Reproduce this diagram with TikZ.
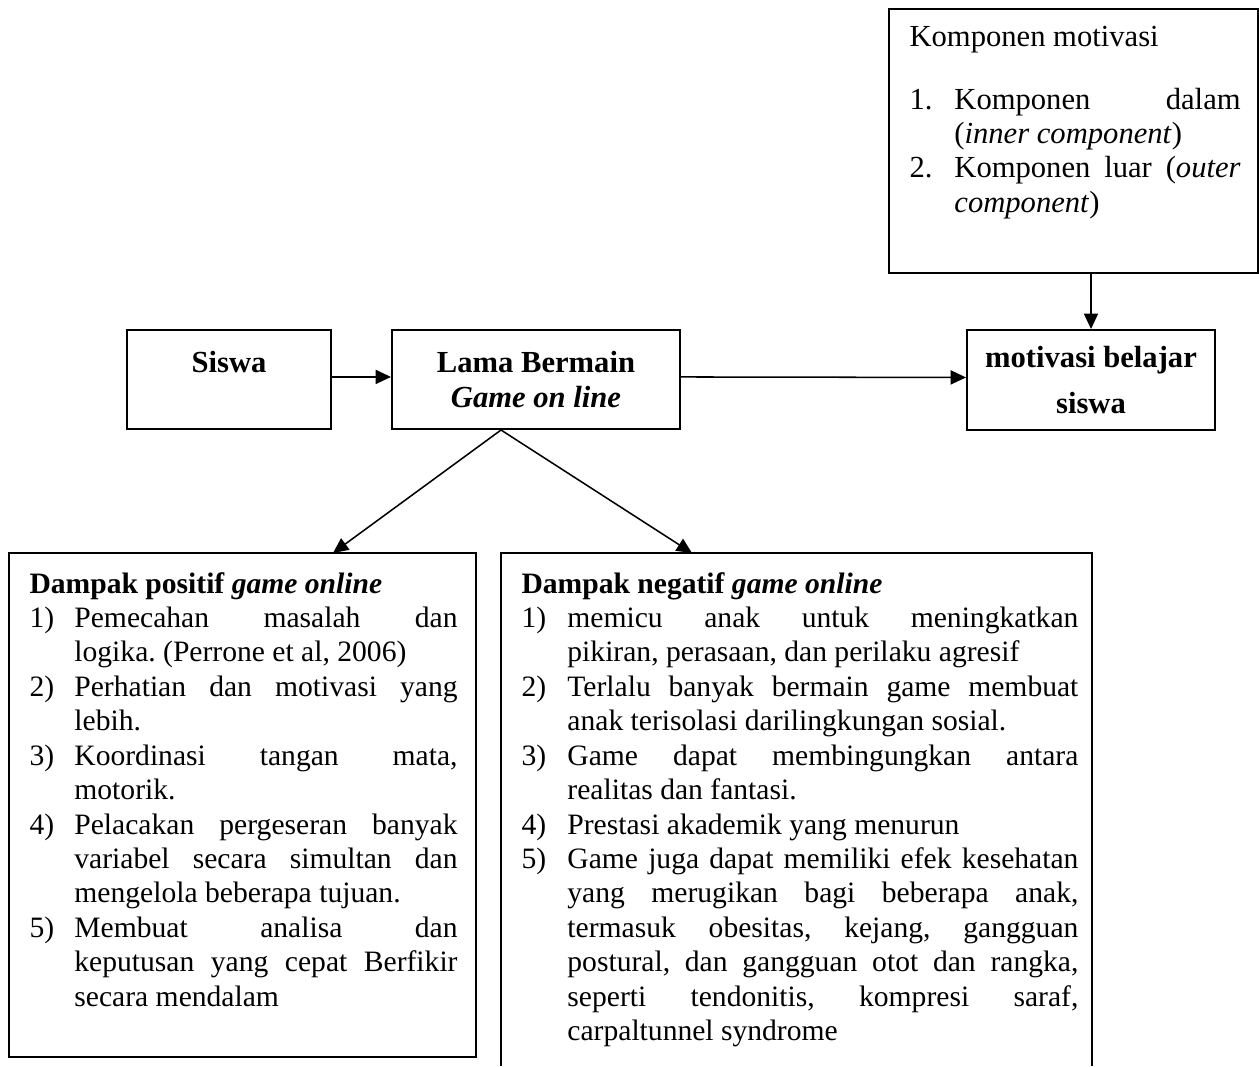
\documentclass[tikz,border=0pt]{standalone}
\usepackage{fontspec}
\setmainfont{Liberation Serif}
\usepackage{tikz}
\usetikzlibrary{positioning}
\usetikzlibrary{arrows.meta}

\frenchspacing
\hyphenpenalty=10000
\exhyphenpenalty=10000

% numbered entry with hanging indent
\newlength{\numw}
\newcommand{\numpar}[2]{\par\noindent\hangindent=\numw\hangafter=1\makebox[\numw][l]{#1}#2\par}

\begin{document}
\begin{tikzpicture}[x=0.392pt, y=-0.392pt,
        font=\fontsize{12pt}{13.5pt}\selectfont,
        box/.style={draw, line width=0.8pt, inner sep=0pt, align=center},
        txt/.style={anchor=base west, inner sep=0pt, align=justify},
        arr/.style={-{Triangle[length=6pt, width=5.5pt]}, line width=0.6pt}]
            % canvas
            \useasboundingbox (0,0) rectangle (1259,1066);

            % top row
            \node[box, minimum width=80pt, minimum height=38.8pt] (siswa) at (229,379.5) {\textbf{Siswa}\\ \mbox{}};
            \node[box, minimum width=112.9pt, minimum height=38.8pt] (lama) at (536,379.5) {\textbf{Lama Bermain}\\ \textbf{\textit{Game on line}}};
            \node[box, minimum width=97.2pt, minimum height=39.2pt, font=\fontsize{12pt}{18pt}\selectfont] (motivasi) at (1091,380) {\textbf{motivasi belajar}\\ \textbf{siswa}};

            % komponen motivasi
            \node[box, minimum width=144.6pt, minimum height=103.5pt] (komponen) at (1073.5,141) {};
            \node[txt, text width=129.8pt] (komponentxt) at (909,46) {\setlength{\numw}{17.6pt}%
                Komponen motivasi\par\vspace{11.2pt}
                \numpar{1.}{Komponen dalam\linebreak (\textit{inner component})}
                \numpar{2.}{Komponen luar (\textit{outer}\linebreak \textit{component})}};

            % dampak positif
            \node[box, minimum width=183pt, minimum height=197.6pt] (positif) at (242.5,805) {};
            \node[txt, text width=167.8pt, font=\fontsize{11.6pt}{13.5pt}\selectfont] (positiftxt) at (29,593) {\setlength{\numw}{17.6pt}%
                \textbf{Dampak positif \textit{game online}}\par
                \numpar{1)}{Pemecahan masalah dan\linebreak logika. (Perrone et al, 2006)}
                \numpar{2)}{Perhatian dan motivasi yang\linebreak lebih.}
                \numpar{3)}{Koordinasi tangan mata,\linebreak motorik.}
                \numpar{4)}{Pelacakan pergeseran banyak\linebreak variabel secara simultan dan\linebreak mengelola beberapa tujuan.}
                \numpar{5)}{Membuat analisa dan\linebreak keputusan yang cepat Berfikir\linebreak secara mendalam}};

            % dampak negatif (open at the bottom)
            \coordinate (negbl) at (501,1066);
            \coordinate (negbr) at (1092,1066);
            \draw[line width=0.8pt] (negbl) |- (1092,553) -- (negbr);
            \node[txt, text width=218.3pt, font=\fontsize{11.6pt}{13.5pt}\selectfont] (negatiftxt) at (521,593) {\setlength{\numw}{18pt}%
                \textbf{Dampak negatif \textit{game online}}\par
                \numpar{1)}{memicu anak untuk meningkatkan\linebreak pikiran, perasaan, dan perilaku agresif}
                \numpar{2)}{Terlalu banyak bermain game membuat\linebreak anak terisolasi darilingkungan sosial.}
                \numpar{3)}{Game dapat membingungkan antara\linebreak realitas dan fantasi.}
                \numpar{4)}{Prestasi akademik yang menurun}
                \numpar{5)}{Game juga dapat memiliki efek kesehatan\linebreak yang merugikan bagi beberapa anak,\linebreak termasuk obesitas, kejang, gangguan\linebreak postural, dan gangguan otot dan rangka,\linebreak seperti tendonitis, kompresi saraf,\linebreak carpaltunnel syndrome}};

            % arrows
            \draw[arr] ([yshift=1pt]siswa.east) -- ([yshift=1pt]lama.west);
            \draw[arr] ([yshift=1pt]lama.east) -- ([yshift=1pt]motivasi.west);
            \draw[arr] (komponen.south -| motivasi.north) -- (motivasi.north);
            \coordinate (split) at (501,430);
            \coordinate (posin) at (333,553);
            \coordinate (negin) at (692,553);
            \draw[arr] (split) -- (posin);
            \draw[arr] (split) -- (negin);
        \end{tikzpicture}
\end{document}
